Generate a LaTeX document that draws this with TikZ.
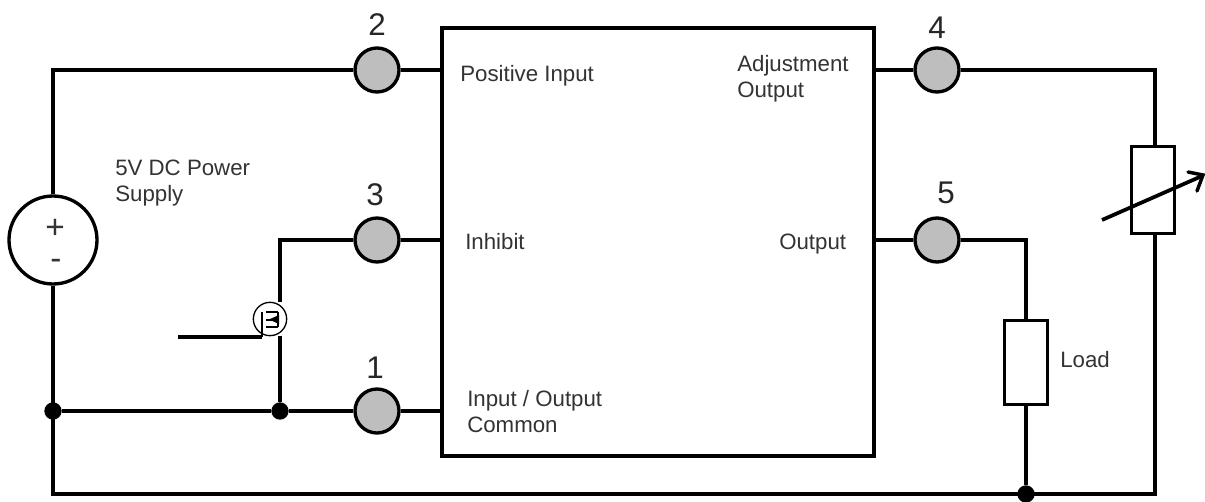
\documentclass[tikz,border=0pt]{standalone}
\usepackage{fontspec}
\setmainfont{Liberation Sans}
\definecolor{termgray}{RGB}{190,190,190}
\tikzset{
 x=0.75pt,y=-0.75pt,
 wire/.style={line width=2.5pt,black},
 term/.style={circle,draw=black,line width=2.5pt,fill=termgray,minimum size=33pt,inner sep=0pt},
 dot/.style={circle,fill=black,minimum size=13pt,inner sep=0pt},
 resistor/.style={rectangle,draw=black,line width=2.2pt,fill=white,inner sep=0pt,minimum width=32pt,minimum height=63pt},
 lbl/.style={font=\fontsize{16.7pt}{19.5pt}\selectfont,text=black!80,align=left,inner sep=0pt,anchor=west},
 num/.style={font=\fontsize{23.5pt}{26pt}\selectfont,text=black!85,inner sep=0pt},
 sign/.style={font=\fontsize{25pt}{28pt}\selectfont,inner sep=0pt,text=black!80,text depth=0pt},
 thin/.style={line width=1pt,black}
}
\begin{document}
\begin{tikzpicture}
\useasboundingbox (0,0) rectangle (1205,502);
\fill[white] (0,0) rectangle (1205,502);
% coordinates
\coordinate (tl) at (53,70);
\coordinate (bl) at (53,494);
\coordinate (br) at (1155,494);
\coordinate (tr) at (1155,70);
\coordinate (b3) at (280,240);
\coordinate (lt) at (1026,240);
\coordinate (gate) at (178,337);
\coordinate (gatec) at (262,337);
% main parts
\node[rectangle,draw=black,line width=2.5pt,minimum width=324pt,minimum height=321pt,inner sep=0pt] (box) at (658,242) {};
\node[term] (t2) at (377,70) {};
\node[term] (t3) at (377,240) {};
\node[term] (t1) at (377,411) {};
\node[term] (t4) at (937,70) {};
\node[term] (t5) at (937,240) {};
\node[circle,draw=black,line width=2.5pt,fill=white,minimum size=66pt,inner sep=0pt] (src) at (53,240) {};
\node[dot] (j1) at (53,411) {};
\node[dot] (j2) at (280,411) {};
\node[dot] (j3) at (1026,494) {};
\node[resistor] (load) at (1026,362.5) {};
\node[resistor,minimum height=65pt] (rheo) at (1153,190) {};
\node[circle,draw=black,line width=1pt,fill=white,minimum size=25pt,inner sep=0pt] (fet) at (270,319) {};
% wires
\draw[wire] (src.north) -- (tl) -- (t2.west);
\draw[wire] (t2.east) -- (t2.east -| box.west);
\draw[wire] (t3.east) -- (t3.east -| box.west);
\draw[wire] (t1.east) -- (t1.east -| box.west);
\draw[wire] (t4.west -| box.east) -- (t4.west);
\draw[wire] (t5.west -| box.east) -- (t5.west);
\draw[wire] (t4.east) -- (tr) -- (rheo.north -| tr);
\draw[wire] (rheo.south -| tr) -- (br) -- (bl) -- (src.south);
\draw[wire] (j1) -- (j2) -- (t1.west);
\draw[wire] (t3.west) -- (b3) -- (b3 |- fet.north);
\draw[wire] (fet.south -| j2) -- (j2);
\draw[wire] (t5.east) -- (lt) -- (load.north);
\draw[wire] (load.south) -- (j3);
\draw[wire] (gate) -- (gatec);
% MOSFET symbol
\draw[thin] (gatec) -- (262,312);
\draw[thin] (266,312) -- (278,312);
\draw[thin] (266,320) -- (278,320);
\draw[thin] (266,327) -- (278,327);
\draw[line width=1.2pt] (278,312) -- (278,327);
\fill[black] (269,319.5) -- (279,315) -- (279,324) -- cycle;
% variable resistor arrow
\draw[line width=2.8pt] (1102,220) -- (1202,176);
\draw[line width=2.6pt,line cap=round,line join=miter] (1188,172) -- (1203,175) -- (1197,191);
% source signs
\node[sign,text height=13pt] (plus) at (55,230) {+};
\node[sign,text height=10pt] (minus) at (56,263) {-};
% labels
\node[num] (n2) at (377,25) {2};
\node[num] (n3) at (375,195) {3};
\node[num] (n1) at (375,368) {1};
\node[num] (n4) at (937,28) {4};
\node[num] (n5) at (946,193) {5};
\node[lbl] (l1) at (460,76) {Positive Input};
\node[lbl] (l2) at (737,79) {Adjustment\\Output};
\node[lbl] (l3) at (465,242) {Inhibit};
\node[lbl] (l4) at (779,244) {Output};
\node[lbl] (l5) at (467,412) {Input / Output\\Common};
\node[lbl] (l6) at (115,183) {5V DC Power\\Supply};
\node[lbl] (l7) at (1060,360) {Load};
\end{tikzpicture}
\end{document}
